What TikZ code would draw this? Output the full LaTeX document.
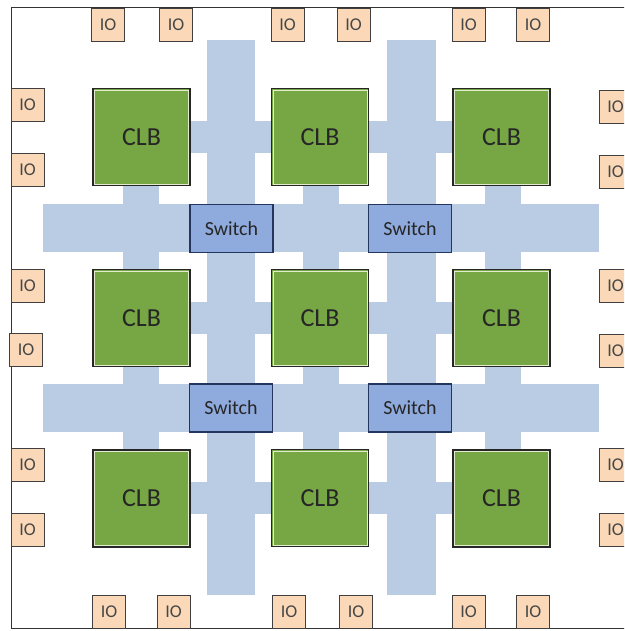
\documentclass[tikz,border=0pt]{standalone}
\usepackage{fontspec}
\setmainfont{Carlito}
\usetikzlibrary{calc}
\definecolor{band}{HTML}{BACCE4}
\definecolor{clbgreen}{HTML}{77A744}
\definecolor{clbinner}{HTML}{E4ECCF}
\definecolor{swfill}{HTML}{8FAADC}
\definecolor{swdraw}{HTML}{22365E}
\definecolor{iofill}{HTML}{FAD8B8}
\tikzset{
  clbbox/.style={draw=black!85, line width=1.2pt, fill=clbgreen, minimum width=97pt, minimum height=97pt, inner sep=0pt, font=\fontsize{26}{28}\selectfont, text=black!85},
  clbin/.style={draw=clbinner, line width=0.8pt},
  swbox/.style={draw=swdraw, line width=1.2pt, fill=swfill, minimum width=83pt, minimum height=48pt, inner sep=0pt, font=\fontsize{20}{22}\selectfont, text=black!85},
  iobox/.style={draw=black!75, line width=0.8pt, fill=iofill, minimum width=33pt, minimum height=33pt, inner sep=0pt, font=\fontsize{18}{20}\selectfont, text=black!72},
  bandfill/.style={fill=band, draw=none},
  frameline/.style={draw=black!80, line width=0.9pt}
}
\newcommand{\clbnode}[2]{%
  \node[clbbox] (#1) at (#2) {CLB};
  \draw[clbin] ($(#1.north west)+(2.2,2.2)$) rectangle ($(#1.south east)+(-2.2,-2.2)$);
}
\begin{document}
\begin{tikzpicture}[x=1pt,y=-1pt]
\useasboundingbox (0,0) rectangle (624,631);
\clip (0,0) rectangle (624,631);
\fill[white] (0,0) rectangle (624,631);
% frame
\coordinate (ftl) at (11,7);
\coordinate (ftr) at (630,7);
\coordinate (fbl) at (11,628);
\coordinate (fbr) at (630,628);
\draw[frameline] (ftr) -- (ftl) -- (fbl) -- (fbr);
% routing channels
\fill[bandfill] (207,40) rectangle (255,595);
\fill[bandfill] (387,40) rectangle (436,595);
\fill[bandfill] (43,204) rectangle (599,252);
\fill[bandfill] (43,384) rectangle (599,432);
% stubs between CLBs
\foreach \yy in {137,318,498} {\fill[bandfill] (141,\yy-16) rectangle (501,\yy+16);}
\foreach \xx in {141,321,503} {\fill[bandfill] (\xx-18,137) rectangle (\xx+18,498);}
% CLBs
\clbnode{c11}{141.5,137}
\clbnode{c12}{320,137}
\clbnode{c13}{501.5,137}
\clbnode{c21}{141.5,318}
\clbnode{c22}{320,318}
\clbnode{c23}{501.5,318}
\clbnode{c31}{141.5,498.5}
\clbnode{c32}{320,498}
\clbnode{c33}{501.5,498.5}
% switches
\node[swbox] (s11) at (231.5,228.5) {Switch};
\node[swbox] (s12) at (410,228.5) {Switch};
\node[swbox] (s21) at (231,408) {Switch};
\node[swbox] (s22) at (410,408) {Switch};
% IO top
\node[iobox] (it1) at (108,24.5) {IO};
\node[iobox] (it2) at (176,24.5) {IO};
\node[iobox] (it3) at (287.5,24.5) {IO};
\node[iobox] (it4) at (353.5,24.5) {IO};
\node[iobox] (it5) at (468.5,24.5) {IO};
\node[iobox] (it6) at (533,24.5) {IO};
% IO bottom
\node[iobox] (ib1) at (109,612) {IO};
\node[iobox] (ib2) at (173.5,612) {IO};
\node[iobox] (ib3) at (289,612) {IO};
\node[iobox] (ib4) at (356,612) {IO};
\node[iobox] (ib5) at (468.5,612) {IO};
\node[iobox] (ib6) at (533,612) {IO};
% IO left
\node[iobox] (il1) at (27.5,104.5) {IO};
\node[iobox] (il2) at (27.5,170) {IO};
\node[iobox] (il3) at (27.5,285.5) {IO};
\node[iobox] (il4) at (26,350) {IO};
\node[iobox] (il5) at (27.5,465) {IO};
\node[iobox] (il6) at (27.5,529.5) {IO};
% IO right
\node[iobox] (ir1) at (615.5,107) {IO};
\node[iobox] (ir2) at (615.5,171.5) {IO};
\node[iobox] (ir3) at (615.5,285.5) {IO};
\node[iobox] (ir4) at (615.5,350.5) {IO};
\node[iobox] (ir5) at (615.5,465) {IO};
\node[iobox] (ir6) at (615.5,530) {IO};
\end{tikzpicture}
\end{document}
